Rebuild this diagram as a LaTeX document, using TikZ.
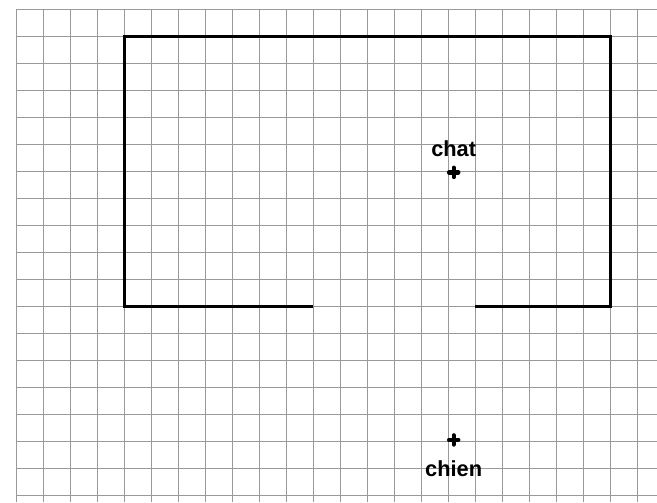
\documentclass[tikz,border=0pt]{standalone}
\usepackage{fontspec}
\setmainfont{Liberation Sans}
\usetikzlibrary{positioning}

\begin{document}
\begin{tikzpicture}[
            x=0.5cm, y=-0.5cm,
            gridline/.style={draw=gray!80, line width=0.5pt},
            wall/.style={draw=black, line width=1.8pt},
            tag/.style={font=\bfseries\fontsize{11.5}{13}\selectfont, inner sep=1pt},
            pics/plusmark/.style={code={
              \draw[line width=2.3pt, line cap=round] (-0.17,0) -- (0.17,0) (0,-0.17) -- (0,0.17);}}
          ]
          \useasboundingbox (-0.604,-0.344) rectangle (23.73,18.25);
          % grid
          \foreach \i in {0,...,23} \draw[gridline] (\i,0) -- (\i,18.25);
          \foreach \j in {0,...,18} \draw[gridline] (0,\j) -- (23.73,\j);
          % walls
          \draw[wall] (11,11) -- (4,11) -- (4,1) -- (22,1) -- (22,11) -- (17,11);
          % points
          \coordinate (chat) at (16.2,6.04);
          \coordinate (chien) at (16.2,15.95);
          \pic at (chat) {plusmark};
          \pic at (chien) {plusmark};
          \node[tag, above=7pt of chat] (chatlabel) {chat};
          \node[tag, below=9.5pt of chien] (chienlabel) {chien};
        \end{tikzpicture}
\end{document}
